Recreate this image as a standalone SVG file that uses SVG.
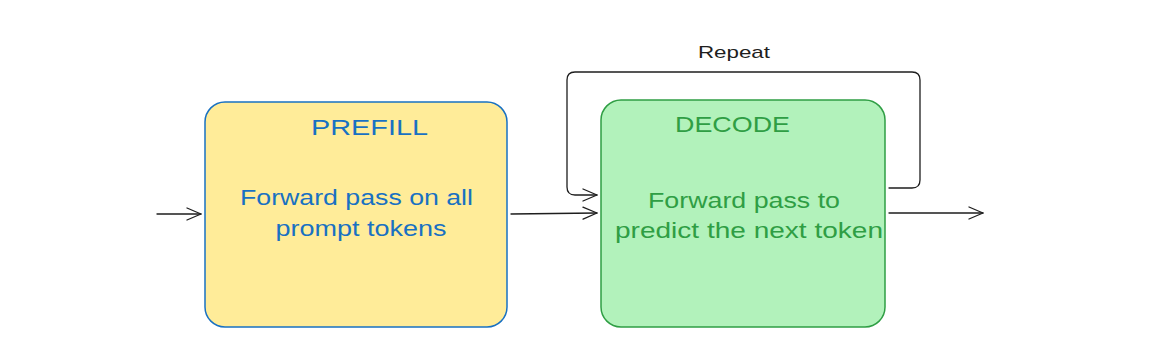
<svg xmlns="http://www.w3.org/2000/svg" width="1160" height="364" viewBox="0 0 1160 364">
<style>
.lbl{font-family:"Liberation Sans",Arial,sans-serif;text-anchor:middle}
.conn{fill:none;stroke:#1e1e1e;stroke-width:1.3;stroke-linecap:round;stroke-linejoin:round}
.blue{fill:#1971c2}
.green{fill:#2f9e44}
</style>
<defs>
<marker id="ah" viewBox="0 0 16 14" refX="15" refY="7" markerWidth="16" markerHeight="14" markerUnits="userSpaceOnUse" orient="auto">
<path d="M1 1 L15 7 L1 13" fill="none" stroke="#1e1e1e" stroke-width="1.3" stroke-linecap="round" stroke-linejoin="round"/>
</marker>
</defs>
<rect width="1160" height="364" fill="#ffffff"/>
<g id="prefill">
<rect x="205" y="102" width="302" height="225" rx="20" fill="#ffec99" stroke="#1971c2" stroke-width="1.5"/>
<text class="lbl blue" x="369.5" y="135" font-size="22" textLength="117" lengthAdjust="spacingAndGlyphs">PREFILL</text>
<text class="lbl blue" x="356.5" y="205" font-size="22" textLength="233" lengthAdjust="spacingAndGlyphs">Forward pass on all</text>
<text class="lbl blue" x="361" y="236" font-size="22" textLength="171" lengthAdjust="spacingAndGlyphs">prompt tokens</text>
</g>
<g id="decode">
<rect x="601" y="100" width="284" height="227" rx="20" fill="#b2f2bb" stroke="#2f9e44" stroke-width="1.5"/>
<text class="lbl green" x="732.5" y="132" font-size="22" textLength="115" lengthAdjust="spacingAndGlyphs">DECODE</text>
<text class="lbl green" x="744" y="208" font-size="22" textLength="192" lengthAdjust="spacingAndGlyphs">Forward pass to</text>
<text class="lbl green" x="749" y="238" font-size="22" textLength="268" lengthAdjust="spacingAndGlyphs">predict the next token</text>
</g>
<g id="connectors">
<path class="conn" d="M157 214 L201 214" marker-end="url(#ah)"/>
<path class="conn" d="M511 214 L597 213" marker-end="url(#ah)"/>
<path class="conn" d="M889 213 L983 213" marker-end="url(#ah)"/>
<path class="conn" d="M889 188 L912 188 Q920 188 920 180 L920 80 Q920 72 912 72 L575 72 Q567 72 567 80 L567 187 Q567 195 575 195 L597 195" marker-end="url(#ah)"/>
<text class="lbl" x="734" y="58" font-size="17" fill="#1e1e1e" textLength="72" lengthAdjust="spacingAndGlyphs">Repeat</text>
</g>
</svg>
